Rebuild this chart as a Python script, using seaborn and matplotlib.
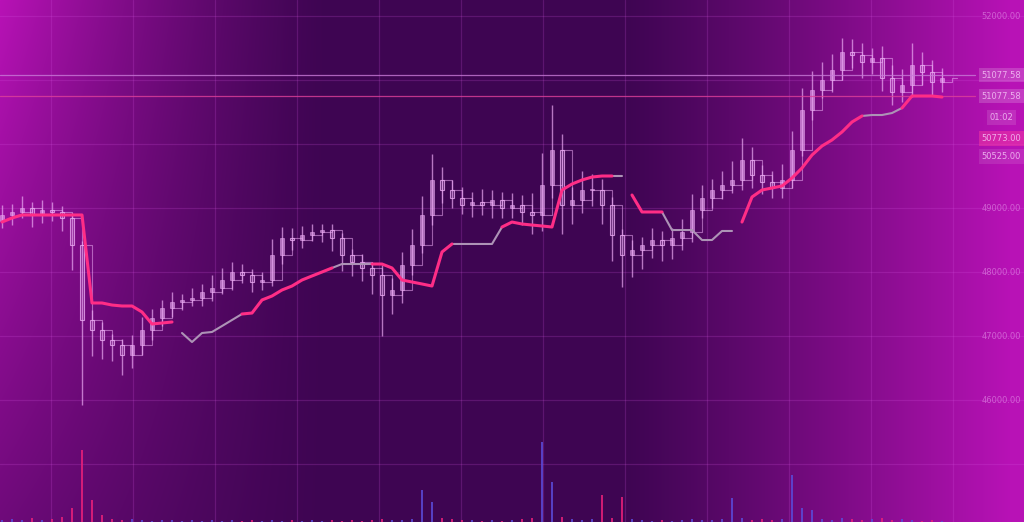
import numpy as np
import pandas as pd
import matplotlib
matplotlib.use("Agg")
import matplotlib.pyplot as plt
import seaborn as sns

# ---------------- data ----------------
close = [48891, 48937, 49000, 48891, 48969, 48937, 48844, 48422, 47250, 47094,
         46938, 46859, 46703, 46859, 47094, 47281, 47438, 47531, 47563, 47594,
         47688, 47750, 47875, 48000, 47953, 47844, 47875, 48266, 48531, 48500,
         48578, 48625, 48656, 48531, 48266, 48156, 48063, 47953, 47641, 47719,
         48109, 48422, 48891, 49438, 49281, 49156, 49047, 49094, 49047, 49125,
         49000, 49047, 48937, 48891, 49359, 49906, 49047, 49125, 49281, 49281,
         49047, 48578, 48266, 48344, 48422, 48500, 48422, 48531, 48625, 48969,
         49156, 49281, 49359, 49438, 49750, 49516, 49406, 49313, 49438, 49906,
         50531, 50844, 51000, 51156, 51438, 51391, 51281, 51344, 51031, 50813,
         50922, 51234, 51125, 50969, 51031]
open_ = [48800] + close[:-1]
wick_up = [150, 120, 180, 100, 160, 120, 100, 80, 60, 150,
           120, 100, 90, 150, 200, 140, 120, 160, 100, 150,
           120, 200, 180, 150, 120, 100, 130, 250, 180, 160,
           140, 120, 100, 90, 80, 100, 120, 90, 150, 180,
           200, 250, 300, 400, 200, 150, 180, 160, 200, 150,
           120, 180, 160, 300, 500, 700, 250, 200, 300, 250,
           180, 120, 100, 150, 120, 180, 140, 160, 200, 250,
           200, 180, 220, 300, 350, 200, 150, 180, 250, 300,
           350, 300, 280, 250, 220, 200, 180, 150, 180, 200,
           250, 350, 200, 180, 150]
wick_dn = [120, 150, 100, 180, 120, 140, 200, 390, 1330, 400,
           300, 250, 310, 200, 150, 160, 120, 140, 130, 100,
           120, 140, 100, 160, 120, 150, 120, 100, 140, 160,
           120, 100, 150, 200, 250, 220, 200, 300, 640, 300,
           200, 150, 120, 150, 200, 160, 140, 180, 150, 200,
           160, 150, 200, 300, 250, 200, 450, 300, 200, 250,
           300, 400, 500, 350, 300, 200, 250, 220, 180, 150,
           120, 150, 140, 120, 150, 200, 180, 160, 150, 120,
           100, 150, 120, 180, 160, 200, 250, 180, 210, 200,
           150, 180, 200, 220, 160]
volume = [2, 3, 2, 4, 2, 3, 5, 14, 72, 22,
          7, 3, 2, 3, 2, 1, 2, 2, 1, 2,
          1, 2, 1, 2, 1, 2, 1, 2, 1, 2,
          1, 2, 1, 2, 1, 2, 1, 2, 3, 2,
          2, 3, 32, 20, 4, 3, 2, 2, 1, 2,
          1, 2, 3, 4, 80, 40, 5, 3, 2, 3,
          27, 4, 25, 3, 2, 1, 2, 1, 2, 3,
          2, 2, 3, 24, 4, 2, 3, 2, 3, 47,
          14, 12, 3, 2, 4, 3, 2, 3, 4, 2,
          3, 2, 1, 2, 1]
N = np.nan
trend_pink = [48781, 48844, 48891, 48891, 48891, 48891, 48891, 48891, 48891, 47516,
              47516, 47484, 47469, 47469, 47375, 47188, 47203, 47219, N, N,
              N, N, N, N, 47344, 47359, 47563, 47625, 47719, 47781,
              47875, 47938, 48000, 48063, N, N, N, 48125, 48125, 48063,
              47875, 47844, 47813, 47781, 48313, 48438, N, N, N, N,
              48703, 48781, 48750, 48734, 48719, 48703, 49281, 49375, 49438, 49484,
              49500, 49500, N, 49203, 48938, 48938, 48938, N, N, N,
              N, N, N, N, 48781, 49172, 49281, 49313, 49344, 49469,
              49625, 49828, 49969, 50063, 50188, 50344, 50438, N, N, N,
              50563, 50750, 50750, 50750, 50734]
trend_gray = [N, N, N, N, N, N, N, N, N, N,
              N, N, N, N, N, N, N, N, 47047, 46906,
              47047, 47063, 47156, 47250, 47344, N, N, N, N, N,
              N, N, N, 48063, 48125, 48125, 48125, 48125, N, N,
              N, N, N, N, N, 48438, 48438, 48438, 48438, 48438,
              48703, N, N, N, N, N, N, N, N, N,
              N, 49500, 49500, N, N, N, 48938, 48656, 48656, 48656,
              48500, 48500, 48641, 48641, N, N, N, N, N, N,
              N, N, N, N, N, N, 50438, 50453, 50453, 50484,
              50563, N, N, N, N]
price_levels = [52000, 49000, 48000, 47000, 46000]
level_labels = ["52000.00", "49000.00", "48000.00", "47000.00", "46000.00"]
tags = [51077.58, 50750.00, 50420.00, 50080.00, 49800.00]
tag_labels = ["51077.58", "51077.58", "01:02", "50773.00", "50525.00"]

# ---------------- figure ----------------
sns.set_style("dark")
W, H = 1024, 522
fig = plt.figure(figsize=(W / 100, H / 100), dpi=100)
ax = fig.add_axes([0, 0, 1, 1])
ax.set_xlim(-0.2, 102.2)
ax.set_ylim(44094, 52250)

# background gradient
yy, xx = np.mgrid[0:H, 0:W].astype(float)
dark = np.array([0x3e, 0x05, 0x52]) / 255
mag = np.array([0xb8, 0x12, 0xb6]) / 255
w_left = (np.clip(1 - xx / 330, 0, 1) ** 1.3) * (1 - 0.6 * yy / H)
w_right = np.clip((xx - 620) / 390, 0, 1) ** 1.15
w = np.clip(w_left + w_right, 0, 1)[..., None]
bg = dark * (1 - w) + mag * w
ax.imshow(bg, extent=[0, 1, 0, 1], transform=ax.transAxes, aspect="auto", zorder=0)

# grid
grid_c = (0.85, 0.35, 0.9, 0.2)
for p in np.arange(45000, 52001, 1000):
    ax.axhline(p, color=grid_c, lw=0.9, zorder=1)
for gx in np.arange(4.9, 102, 8.2):
    ax.axvline(gx, color=grid_c, lw=0.9, zorder=1)

df = pd.DataFrame({"i": np.arange(len(close)), "open": open_, "close": close,
                   "up": wick_up, "dn": wick_dn, "vol": volume,
                   "pink": trend_pink, "gray": trend_gray})
df["hi"] = df[["open", "close"]].max(axis=1) + df["up"]
df["lo"] = df[["open", "close"]].min(axis=1) - df["dn"]

# candles
cc = "#eaa8f2"
ax.vlines(df["i"], df["lo"], df["hi"], color=cc, lw=1.0, alpha=0.7, zorder=3)
body_bottom = df[["open", "close"]].min(axis=1)
body_h = (df["close"] - df["open"]).abs().clip(lower=15)
rising = df["close"] >= df["open"]
ax.bar(df["i"][rising], body_h[rising], bottom=body_bottom[rising], width=0.42,
       color=cc, alpha=0.6, edgecolor=cc, lw=0.6, zorder=3)
ax.bar(df["i"][~rising], body_h[~rising], bottom=body_bottom[~rising], width=0.42,
       color=matplotlib.colors.to_rgba(cc, 0.15), edgecolor=matplotlib.colors.to_rgba(cc, 0.8),
       lw=0.8, zorder=3)
# displaced step outline of the close series
ax.step(df["i"] + 1.5, df["close"], where="mid", color=cc, lw=0.8, alpha=0.55, zorder=2)

# trend lines (split into segments at gaps)
for col, color, lw in [("gray", "#ad93b6", 1.5), ("pink", "#ff2d86", 2.2)]:
    seg = df[col].isna().cumsum()
    d = pd.DataFrame({"i": df["i"], "v": df[col], "seg": seg}).dropna()
    sns.lineplot(data=d, x="i", y="v", units="seg", estimator=None, ax=ax,
                 color=color, lw=lw, zorder=5)

# horizontal level lines
ax.axhline(tags[0], xmax=0.952, color="#c97ad8", lw=0.9, alpha=0.8, zorder=4)
ax.axhline(tags[1], xmax=0.952, color="#e0409a", lw=0.9, alpha=0.8, zorder=4)

# volume axis
vax = ax.twinx()
vax.set_ylim(0, 522)
vcol = np.where(rising, "#5b4ad8", "#e8207a")
vax.bar(df["i"], df["vol"], width=0.22, color=vcol, alpha=0.85, lw=0, edgecolor="none", zorder=2)
vax.axis("off")

# right labels
for p, lab in zip(price_levels, level_labels):
    ax.text(0.978, p, lab, transform=ax.get_yaxis_transform(), ha="center", va="center",
            fontsize=6, color="#e9a0ee", alpha=0.55, zorder=6)
tag_face = ["#ffffff", "#ffffff", "#ffffff", "#ff3fa0", "#ffffff"]
tag_alpha = [0.18, 0.18, 0.12, 0.45, 0.1]
for p, lab, fc, fa in zip(tags, tag_labels, tag_face, tag_alpha):
    ax.text(0.978, p, lab, transform=ax.get_yaxis_transform(), ha="center", va="center",
            fontsize=6, color="#f4c4f6", alpha=0.85, zorder=6,
            bbox=dict(boxstyle="square,pad=0.35", fc=matplotlib.colors.to_rgba(fc, fa), ec="none"))

ax.set_xlabel("")
ax.set_ylabel("")
ax.set_xticks([])
ax.set_yticks([])
for s in ax.spines.values():
    s.set_visible(False)
ax.grid(False)
fig.savefig("out.png", dpi=100)
